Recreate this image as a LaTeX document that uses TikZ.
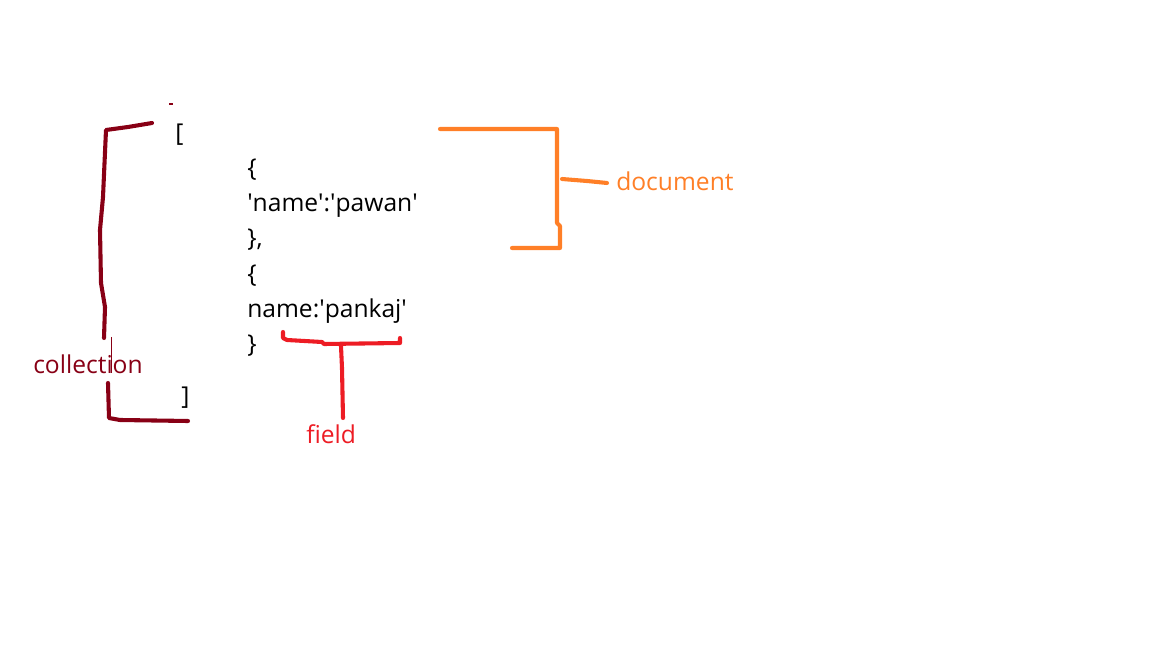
\documentclass[tikz,border=0pt]{standalone}
\usepackage{fontspec}
\setmainfont{Open Sans}
\usepackage{tikz}
\usetikzlibrary{positioning}
\definecolor{collred}{RGB}{136,0,21}
\definecolor{docorange}{RGB}{255,127,39}
\definecolor{fieldred}{RGB}{237,28,36}
\newcommand{\sq}{\textquotesingle}

\begin{document}
\begin{tikzpicture}[x=0.025cm, y=-0.025cm,
        code/.style={anchor=base west, inner sep=0pt, font=\fontsize{17.5}{20}\selectfont},
        tag/.style={anchor=base west, inner sep=0pt, font=\fontsize{17.5}{20}\selectfont},
        hand/.style={line width=2.9pt, line join=round, line cap=round}]
            \useasboundingbox (0,0) rectangle (1152,648);
            % the array
            \node[code] (open) at (175,142) {[};
            \node[code] (ob1) at (247,177) {\{};
            \node[code] (pawan) at (247,212) {\sq name\sq:\sq pawan\sq};
            \node[code] (cb1) at (247,247) {\},};
            \node[code] (ob2) at (247,283) {\{};
            \node[code] (pankaj) at (247,318) {name:\sq pankaj\sq};
            \node[code] (cb2) at (247,353) {\}};
            \node[code] (close) at (181,405) {]};
            % collection
            \draw[collred, line width=0.8pt] (169,104) -- (173,104);
            \draw[collred, hand] (152,123) -- (128,127) -- (106,130) -- (103,197) -- (100,230) -- (101,283) -- (105,307) -- (104,338);
            \draw[collred, line width=0.7pt] (111,337) -- (111,373);
            \draw[collred, hand] (108,383) -- (109,418) -- (120,420) -- (188,421);
            \node[tag, text=collred] (coll) at (33,374) {collection};
            % document
            \node[tag, text=docorange] (doc) at (616,191) {document};
            \coordinate (doctick) at (607,183);
            \draw[docorange, hand] (440,129) -- (557,129) -- (557,223) -- (560,226) -- (560,248) -- (512,248);
            \draw[docorange, hand] (562,179) -- (587,181) -- (doctick);
            % field
            \node[tag, text=fieldred] (field) at (306,444) {field};
            \draw[fieldred, hand] (283,332) -- (283,338) -- (287,340) -- (322,342) -- (324,344) -- (400,343) -- (400,338);
            \draw[fieldred, hand] (341,346) -- (342,368) -- (343,418);
        \end{tikzpicture}
\end{document}
